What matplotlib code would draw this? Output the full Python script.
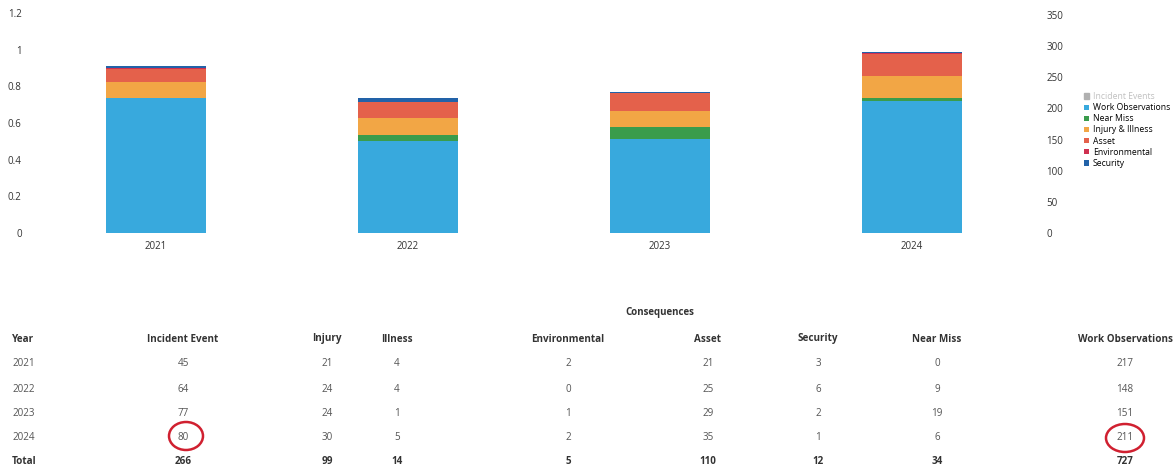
import numpy as np
import matplotlib.pyplot as plt
from matplotlib.patches import Ellipse

plt.rcParams['font.family'] = ['Open Sans', 'DejaVu Sans']

years = ['2021', '2022', '2023', '2024']
incident = [45, 64, 77, 80]
injury = [21, 24, 24, 30]
illness = [4, 4, 1, 5]
environmental = [2, 0, 1, 2]
asset = [21, 25, 29, 35]
security = [3, 6, 2, 1]
near_miss = [0, 9, 19, 6]
work_obs = [217, 148, 151, 211]

injury_illness = [a + b for a, b in zip(injury, illness)]

# stack order from bottom, with legend colours
series = [
    ('Work Observations', work_obs, '#38a9dd'),
    ('Near Miss', near_miss, '#3a9c4c'),
    ('Injury & Illness', injury_illness, '#f2a645'),
    ('Asset', asset, '#e4614b'),
    ('Environmental', environmental, '#cf3050'),
    ('Security', security, '#2262a8'),
]

fig = plt.figure(figsize=(11.73, 4.68), dpi=100)
ax = fig.add_axes([30/1173, 235/468, 1008/1173, 220/468])
ax2 = ax.twinx()

x = np.arange(len(years))
bottom = np.zeros(len(years))
for name, vals, col in series:
    ax2.bar(x, vals, 0.4, bottom=bottom, color=col, label=name)
    bottom += np.array(vals)

ax.set_ylim(0, 1.2)
ax.set_yticks([0, 0.2, 0.4, 0.6, 0.8, 1, 1.2])
ax.set_yticklabels(['0', '0.2', '0.4', '0.6', '0.8', '1', '1.2'])
ax2.set_ylim(0, 353)
ax2.set_yticks(range(0, 351, 50))
ax.set_xlim(-0.5, 3.5)
ax.set_xticks(x)
ax.set_xticklabels(years)
for a in (ax, ax2):
    for s in a.spines.values():
        s.set_visible(False)
    a.tick_params(length=0, labelsize=7, colors='#333333', pad=6)

# legend (Incident Events hidden series shown greyed)
handles, labels = ax2.get_legend_handles_labels()
grey = plt.Rectangle((0, 0), 1, 1, color='#b0b0b0')
leg = fig.legend([grey] + handles, ['Incident Events'] + labels,
                 loc='center left', bbox_to_anchor=(1080/1173, 1 - 130/468),
                 frameon=False, fontsize=6.2, handlelength=0.55, handleheight=0.55,
                 handletextpad=0.45, labelspacing=0.25, borderpad=0)
leg.get_texts()[0].set_color('#c0c0c0')

# table
fig.text(660/1173, 1 - 313/468, 'Consequences', fontsize=7, fontweight='bold',
         ha='center', va='center', color='#333333')
headers = ['Year', 'Incident Event', 'Injury', 'Illness', 'Environmental',
           'Asset', 'Security', 'Near Miss', 'Work Observations']
cols_x = [12, 183, 327, 397, 568, 708, 818, 937, 1125]
rows_y = [339, 364, 389, 414, 438, 462]
columns = [incident, injury, illness, environmental, asset, security, near_miss, work_obs]

def put(cx, cy, s, i, **kw):
    ha = 'left' if i == 0 else 'center'
    fig.text(cx/1173, 1 - cy/468, s, ha=ha, va='center', fontsize=7.1, **kw)

for i, h in enumerate(headers):
    put(cols_x[i], rows_y[0], h, i, fontweight='bold', color='#333333')
for r, yr in enumerate(years):
    cy = rows_y[r + 1]
    put(cols_x[0], cy, yr, 0, color='#555555')
    for c, col in enumerate(columns):
        put(cols_x[c + 1], cy, str(col[r]), c + 1, color='#555555')
put(cols_x[0], rows_y[5], 'Total', 0, fontweight='bold', color='#333333')
for c, col in enumerate(columns):
    put(cols_x[c + 1], rows_y[5], str(sum(col)), c + 1, fontweight='bold', color='#333333')

# red circles drawn on the printout
for cx, cy, w, h in [(186, 436, 34, 28), (1125, 438, 38, 28)]:
    fig.add_artist(Ellipse((cx/1173, 1 - cy/468), w/1173, h/468,
                           transform=fig.transFigure, fill=False,
                           edgecolor='#d02030', linewidth=1.8))

fig.savefig('out.png', dpi=100)
